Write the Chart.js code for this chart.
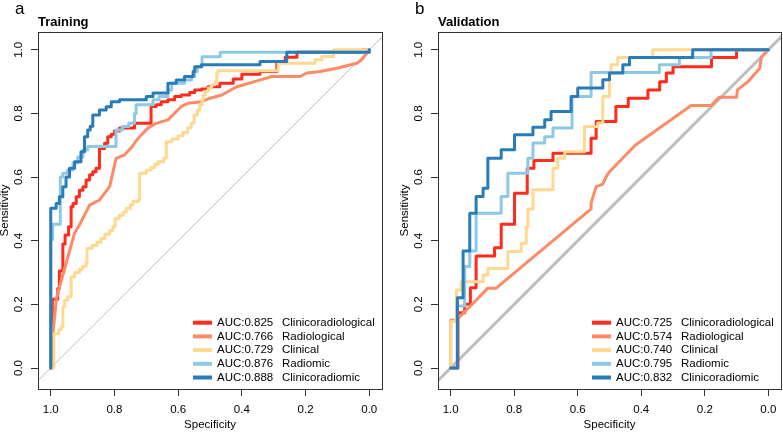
<!DOCTYPE html>
<html>
<head>
<meta charset="utf-8">
<script src="https://cdn.jsdelivr.net/npm/chart.js@4.4.1/dist/chart.umd.min.js"></script>
<style>
  html, body { margin: 0; padding: 0; background: #fff; }
  body { width: 783px; height: 432px; position: relative; overflow: hidden; }
  .panel { position: absolute; top: 0; }
  #leftPanel { left: 0; }
  #rightPanel { left: 400px; }
</style>
</head>
<body>
<div class="panel" id="leftPanel"><canvas id="trainChart" width="400" height="432"></canvas></div>
<div class="panel" id="rightPanel"><canvas id="validChart" width="383" height="432"></canvas></div>
<script>
'use strict';

// legend order: Clinicoradiological, Radiological, Clinical, Radiomic, Clinicoradiomic
const modelNames = ['Clinicoradiological', 'Radiological', 'Clinical', 'Radiomic', 'Clinicoradiomic'];
const trainAuc = [0.825, 0.766, 0.729, 0.876, 0.888];
const validAuc = [0.725, 0.574, 0.740, 0.795, 0.832];
const tickValues = [0.0, 0.2, 0.4, 0.6, 0.8, 1.0];

// [specificity, sensitivity] corners
const trainClinicoradiological = [
    [1, 0], [0.995, 0.216], [0.978, 0.25], [0.973, 0.305], [0.962, 0.39], [0.955, 0.418], [0.944, 0.444],
    [0.936, 0.507], [0.93, 0.517], [0.92, 0.538], [0.91, 0.559], [0.899, 0.57], [0.889, 0.591], [0.878, 0.607],
    [0.868, 0.617], [0.858, 0.628], [0.847, 0.69], [0.831, 0.706], [0.821, 0.727], [0.81, 0.735], [0.8, 0.745],
    [0.784, 0.754], [0.737, 0.769], [0.685, 0.822], [0.669, 0.827], [0.653, 0.837], [0.632, 0.843], [0.611, 0.853],
    [0.59, 0.858], [0.564, 0.866], [0.548, 0.874], [0.527, 0.877], [0.506, 0.884], [0.469, 0.895], [0.427, 0.908],
    [0.4, 0.923], [0.343, 0.932], [0.29, 0.963], [0.264, 0.977], [0.227, 0.992], [0.02, 1], [0, 1],
];
const trainRadiological = [
    [1, 0], [1, 0.1], [0.993, 0.11], [0.982, 0.22], [0.925, 0.425], [0.91, 0.449], [0.878, 0.512], [0.847, 0.528],
    [0.815, 0.57], [0.795, 0.659], [0.768, 0.67], [0.745, 0.695], [0.726, 0.722], [0.695, 0.754], [0.669, 0.769],
    [0.632, 0.78], [0.59, 0.822], [0.569, 0.832], [0.527, 0.837], [0.5, 0.848], [0.463, 0.858], [0.416, 0.884],
    [0.36, 0.9], [0.306, 0.916], [0.217, 0.916], [0.196, 0.927], [0.154, 0.932], [0.102, 0.942], [0.039, 0.958],
    [0.023, 0.969], [0, 1],
];
const trainClinical = [
    [1, 0], [0.99, 0.108], [0.975, 0.12], [0.968, 0.129], [0.962, 0.192], [0.957, 0.213], [0.947, 0.224],
    [0.936, 0.286], [0.925, 0.3], [0.91, 0.31], [0.9, 0.32], [0.889, 0.329], [0.886, 0.376], [0.87, 0.385],
    [0.855, 0.395], [0.842, 0.407], [0.83, 0.42], [0.815, 0.432], [0.805, 0.444], [0.798, 0.47], [0.785, 0.48],
    [0.772, 0.49], [0.763, 0.502], [0.75, 0.513], [0.742, 0.523], [0.726, 0.528], [0.721, 0.612], [0.7, 0.622],
    [0.685, 0.63], [0.673, 0.64], [0.663, 0.648], [0.645, 0.66], [0.637, 0.711], [0.62, 0.72], [0.6, 0.73],
    [0.585, 0.74], [0.57, 0.755], [0.559, 0.769], [0.55, 0.795], [0.54, 0.81], [0.532, 0.827], [0.525, 0.84],
    [0.522, 0.858], [0.515, 0.87], [0.505, 0.88], [0.495, 0.89], [0.485, 0.9], [0.479, 0.926], [0.475, 0.934],
    [0.286, 0.958], [0.17, 0.969], [0.149, 0.979], [0.112, 1], [0, 1],
];
const trainRadiomic = [
    [1, 0], [1, 0.404], [0.994, 0.452], [0.97, 0.6], [0.962, 0.612], [0.947, 0.622], [0.93, 0.645], [0.915, 0.663],
    [0.899, 0.685], [0.884, 0.696], [0.795, 0.748], [0.775, 0.759], [0.755, 0.769], [0.737, 0.8], [0.732, 0.827],
    [0.679, 0.843], [0.66, 0.853], [0.632, 0.874], [0.62, 0.895], [0.58, 0.905], [0.558, 0.916], [0.548, 0.932],
    [0.54, 0.947], [0.525, 0.978], [0.468, 0.992], [0, 1],
];
const trainClinicoradiomic = [
    [1, 0], [1, 0.502], [0.983, 0.517], [0.973, 0.538], [0.962, 0.57], [0.952, 0.6], [0.941, 0.628], [0.925, 0.648],
    [0.905, 0.68], [0.894, 0.727], [0.884, 0.748], [0.876, 0.76], [0.868, 0.795], [0.847, 0.811], [0.826, 0.821],
    [0.81, 0.837], [0.784, 0.843], [0.7, 0.853], [0.679, 0.864], [0.632, 0.895], [0.606, 0.905], [0.58, 0.916],
    [0.553, 0.932], [0.548, 0.947], [0.527, 0.953], [0.343, 0.963], [0.259, 0.992], [0, 1],
];

const validClinicoradiological = [
    [1, 0], [0.977, 0.174], [0.956, 0.2], [0.938, 0.252], [0.92, 0.352], [0.862, 0.378], [0.841, 0.452],
    [0.799, 0.549], [0.759, 0.628], [0.738, 0.652], [0.678, 0.675], [0.558, 0.722], [0.542, 0.775], [0.48, 0.822],
    [0.441, 0.848], [0.379, 0.874], [0.342, 0.9], [0.321, 0.927], [0.3, 0.947], [0.179, 0.976], [0.1, 1], [0, 1],
];
const validRadiological = [
    [1, 0], [1, 0.15], [0.982, 0.15], [0.883, 0.251], [0.857, 0.251], [0.558, 0.5], [0.558, 0.518], [0.542, 0.57],
    [0.521, 0.578], [0.51, 0.602], [0.5, 0.617], [0.418, 0.701], [0.243, 0.825], [0.18, 0.825], [0.155, 0.851],
    [0.1, 0.851], [0.097, 0.874], [0.064, 0.9], [0.027, 0.942], [0.022, 0.976], [0, 1],
];
const validClinical = [
    [1, 0], [1, 0.146], [0.982, 0.245], [0.967, 0.271], [0.898, 0.292], [0.883, 0.313], [0.82, 0.366],
    [0.778, 0.392], [0.762, 0.444], [0.757, 0.5], [0.741, 0.56], [0.678, 0.628], [0.663, 0.659], [0.641, 0.68],
    [0.579, 0.759], [0.537, 0.77], [0.521, 0.853], [0.5, 0.932], [0.495, 0.953], [0.474, 0.976], [0.364, 1], [0, 1],
];
const validRadiomic = [
    [1, 0], [0.979, 0.195], [0.956, 0.319], [0.94, 0.368], [0.92, 0.486], [0.841, 0.539], [0.82, 0.612],
    [0.757, 0.659], [0.741, 0.707], [0.704, 0.727], [0.678, 0.754], [0.618, 0.853], [0.558, 0.929], [0.343, 0.953],
    [0.28, 0.976], [0.18, 1], [0, 1],
];
const validClinicoradiomic = [
    [1, 0], [0.979, 0.221], [0.961, 0.368], [0.94, 0.486], [0.92, 0.539], [0.898, 0.565], [0.883, 0.659],
    [0.841, 0.686], [0.799, 0.733], [0.741, 0.757], [0.704, 0.78], [0.684, 0.806], [0.621, 0.853], [0.6, 0.88],
    [0.521, 0.906], [0.5, 0.927], [0.458, 0.953], [0.437, 0.976], [0.238, 1], [0, 1],
];

// reference line, clipped to the plot region
const diagonal = [[1.1, -0.1], [-0.1, 1.1]];

const curveColors = ['#FF2B1C', '#FC8B66', '#FED98F', '#8DC9E4', '#2A7CB8'];
const steppedCurves = [true, false, true, true, true];
const fontFamily = '"Liberation Sans", Arial, Helvetica, sans-serif';

Chart.defaults.font.family = fontFamily;
Chart.defaults.font.size = 11.5;
Chart.defaults.color = '#000';

const toPoints = (pairs) => pairs.map(([x, y]) => ({ x: x, y: y }));

// frame, panel letter, bold title and the R-style legend
const rocDecor = {
    id: 'rocDecor',
    afterDraw(chart, args, opts) {
        const { ctx, chartArea: area } = chart;
        ctx.save();
        ctx.strokeStyle = '#333';
        ctx.lineWidth = 1;
        const l = Math.round(area.left) + 0.5;
        const t = Math.round(area.top) + 0.5;
        ctx.strokeRect(l, t, Math.round(area.right) - Math.round(area.left), Math.round(area.bottom) - Math.round(area.top));

        ctx.fillStyle = '#000';
        ctx.textAlign = 'left';
        ctx.textBaseline = 'alphabetic';
        ctx.font = '17px ' + fontFamily;
        ctx.fillText(opts.letter, area.left - 23, 13.5);
        ctx.font = 'bold 13px ' + fontFamily;
        ctx.fillText(opts.title, area.left, 26);

        ctx.font = '11.5px ' + fontFamily;
        ctx.textBaseline = 'middle';
        chart.data.datasets.slice(0, 5).forEach((ds, i) => {
            const y = area.bottom - 66.3 + i * 13.7;
            ctx.strokeStyle = ds.borderColor;
            ctx.lineWidth = 4;
            ctx.beginPath();
            ctx.moveTo(area.right - 189, y);
            ctx.lineTo(area.right - 170, y);
            ctx.stroke();
            ctx.fillText('AUC:' + opts.aucs[i].toFixed(3), area.right - 165, y);
            ctx.fillText(ds.label, area.right - 100, y);
        });
        ctx.restore();
    },
};

function buildChart(canvasId, curves, aucs, title, letter, diagWidth, padRight) {
    const datasets = curves.map((pts, i) => ({
        label: modelNames[i],
        data: toPoints(pts),
        borderColor: curveColors[i],
        borderWidth: 3,
        borderCapStyle: 'round',
        borderJoinStyle: 'round',
        stepped: steppedCurves[i],
        showLine: true,
        pointRadius: 0,
        order: 5 - i, // last model drawn on top, as in the original
    }));
    datasets.push({
        label: 'reference',
        data: toPoints(diagonal),
        borderColor: '#BEBEBE',
        borderWidth: diagWidth,
        showLine: true,
        pointRadius: 0,
        order: 10,
    });

    return new Chart(document.getElementById(canvasId), {
        type: 'scatter',
        data: { datasets: datasets },
        options: {
            responsive: false,
            animation: false,
            layout: { padding: { left: 0, right: padRight, top: 32, bottom: 0 } },
            plugins: {
                legend: { display: false },
                tooltip: { enabled: false },
                rocDecor: { title: title, letter: letter, aucs: aucs },
            },
            scales: {
                x: {
                    type: 'linear',
                    reverse: true,
                    min: -0.04,
                    max: 1.04,
                    afterBuildTicks: (scale) => {
                        scale.ticks = tickValues.map((v) => ({ value: v }));
                    },
                    afterFit: (scale) => {
                        scale.height = 43;
                    },
                    ticks: {
                        padding: 7,
                        maxRotation: 0,
                        callback: (v) => Number(v).toFixed(1),
                    },
                    grid: { drawOnChartArea: false, drawTicks: true, tickLength: 7, color: '#333' },
                    border: { display: false },
                    title: { display: true, text: 'Specificity', padding: { top: 0, bottom: 0 } },
                },
                y: {
                    type: 'linear',
                    min: -0.066,
                    max: 1.056,
                    afterBuildTicks: (scale) => {
                        scale.ticks = tickValues.map((v) => ({ value: v }));
                    },
                    afterFit: (scale) => {
                        scale.width = 38;
                    },
                    ticks: {
                        minRotation: 90,
                        maxRotation: 90,
                        crossAlign: 'center',
                        padding: 4,
                        callback: (v) => Number(v).toFixed(1),
                    },
                    grid: { drawOnChartArea: false, drawTicks: true, tickLength: 7, color: '#333' },
                    border: { display: false },
                    title: { display: true, text: 'Sensitivity', padding: { top: -2.4, bottom: 0 } },
                },
            },
        },
        plugins: [rocDecor],
    });
}

buildChart('trainChart',
    [trainClinicoradiological, trainRadiological, trainClinical, trainRadiomic, trainClinicoradiomic],
    trainAuc, 'Training', 'a', 1, 18);

buildChart('validChart',
    [validClinicoradiological, validRadiological, validClinical, validRadiomic, validClinicoradiomic],
    validAuc, 'Validation', 'b', 3, 2);
</script>
</body>
</html>
